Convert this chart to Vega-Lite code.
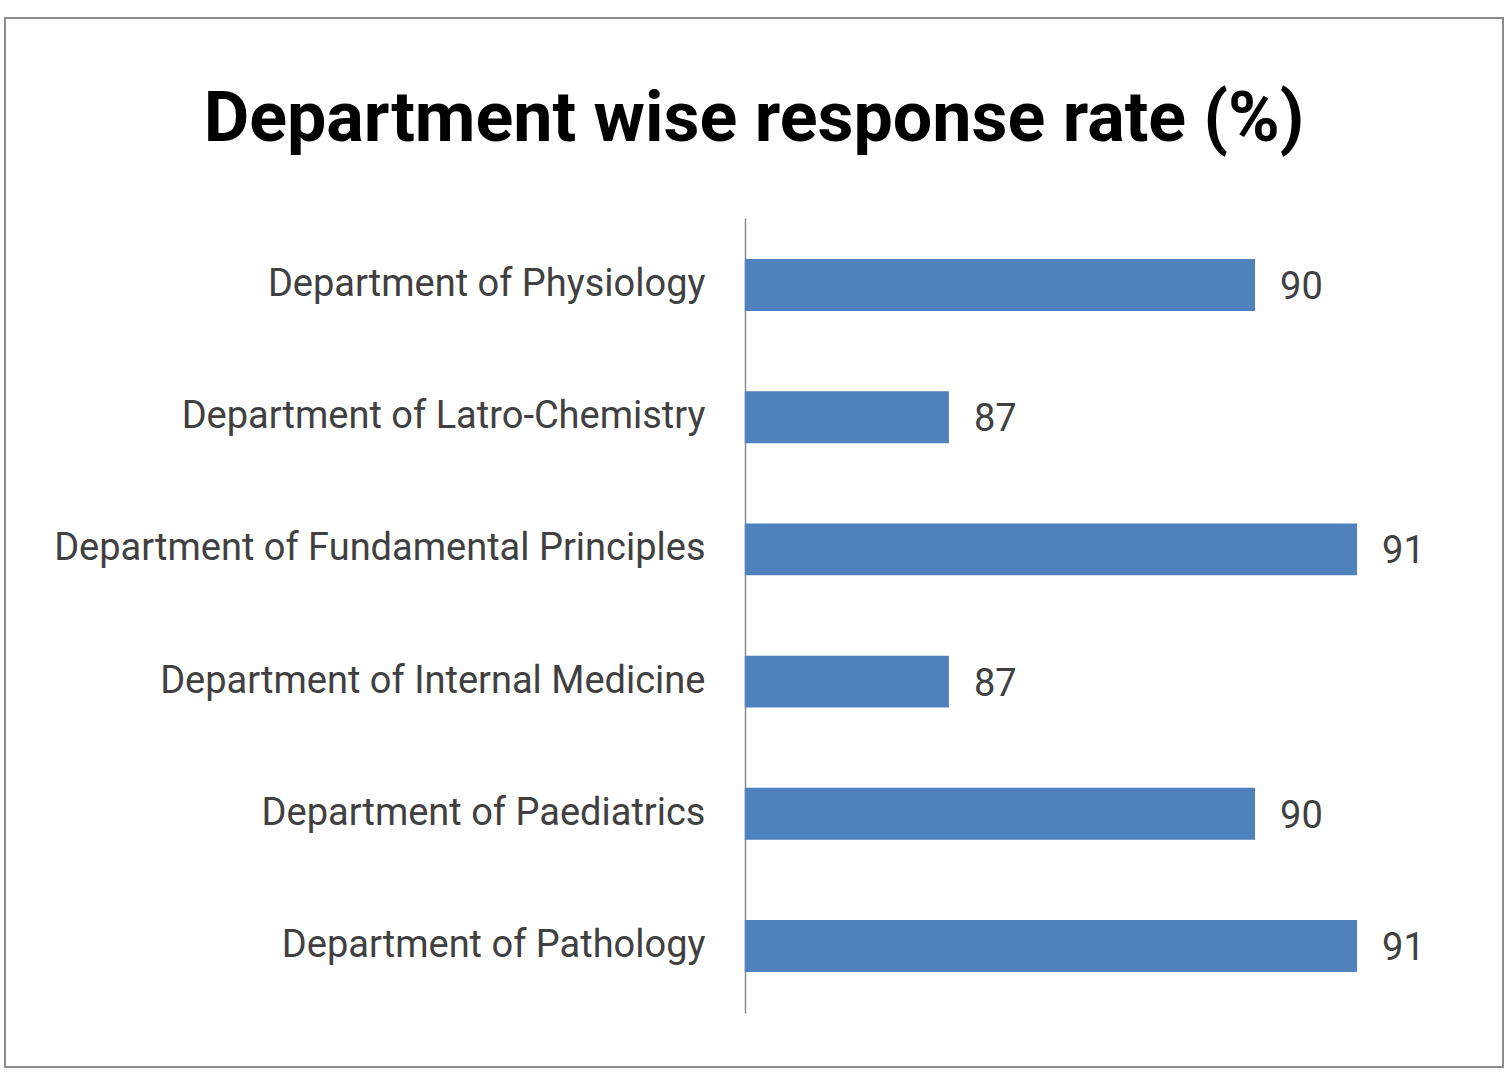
{
  "$schema": "https://vega.github.io/schema/vega-lite/v6.json",
  "autosize": "none",
  "width": 1498,
  "height": 1049,
  "padding": {"left": 5, "top": 18, "right": 5, "bottom": 20},
  "background": "white",
  "config": {
    "view": {"stroke": "#8c8c8c", "strokeWidth": 2},
    "font": "Roboto, Lato, sans-serif"
  },
  "title": {
    "text": "Department wise response rate  (%)",
    "fontSize": 70,
    "fontWeight": "bold",
    "color": "#000000",
    "font": "Roboto, Lato, sans-serif",
    "anchor": "middle",
    "frame": "group",
    "baseline": "alphabetic",
    "offset": -193
  },
  "data": {
    "values": [
      {"department": "Department of Physiology", "rate": 90},
      {"department": "Department of Latro-Chemistry", "rate": 87},
      {"department": "Department of Fundamental Principles", "rate": 91},
      {"department": "Department of Internal Medicine", "rate": 87},
      {"department": "Department of Paediatrics", "rate": 90},
      {"department": "Department of Pathology", "rate": 91}
    ]
  },
  "encoding": {
    "y": {
      "field": "department",
      "type": "nominal",
      "sort": null,
      "title": null,
      "scale": {"range": [200, 995], "paddingInner": 0.607, "paddingOuter": 0.31},
      "axis": {
        "offset": -740,
        "domainColor": "#8c8c8c",
        "domainWidth": 1.5,
        "ticks": false,
        "labelPadding": 40,
        "labelFontSize": 38,
        "labelColor": "#404040",
        "labelFont": "Roboto, Lato, sans-serif",
        "labelLimit": 800
      }
    }
  },
  "layer": [
    {
      "mark": {"type": "bar", "color": "#4F81BD"},
      "encoding": {
        "x": {
          "field": "rate",
          "type": "quantitative",
          "scale": {"domain": [77.75, 92.43], "nice": false, "zero": false},
          "axis": null
        },
        "x2": {"datum": 85}
      }
    },
    {
      "mark": {"type": "text", "align": "left", "baseline": "middle", "dx": 25, "dy": 3, "fontSize": 38, "color": "#404040"},
      "encoding": {
        "x": {"field": "rate", "type": "quantitative"},
        "text": {"field": "rate", "type": "quantitative"}
      }
    }
  ]
}
